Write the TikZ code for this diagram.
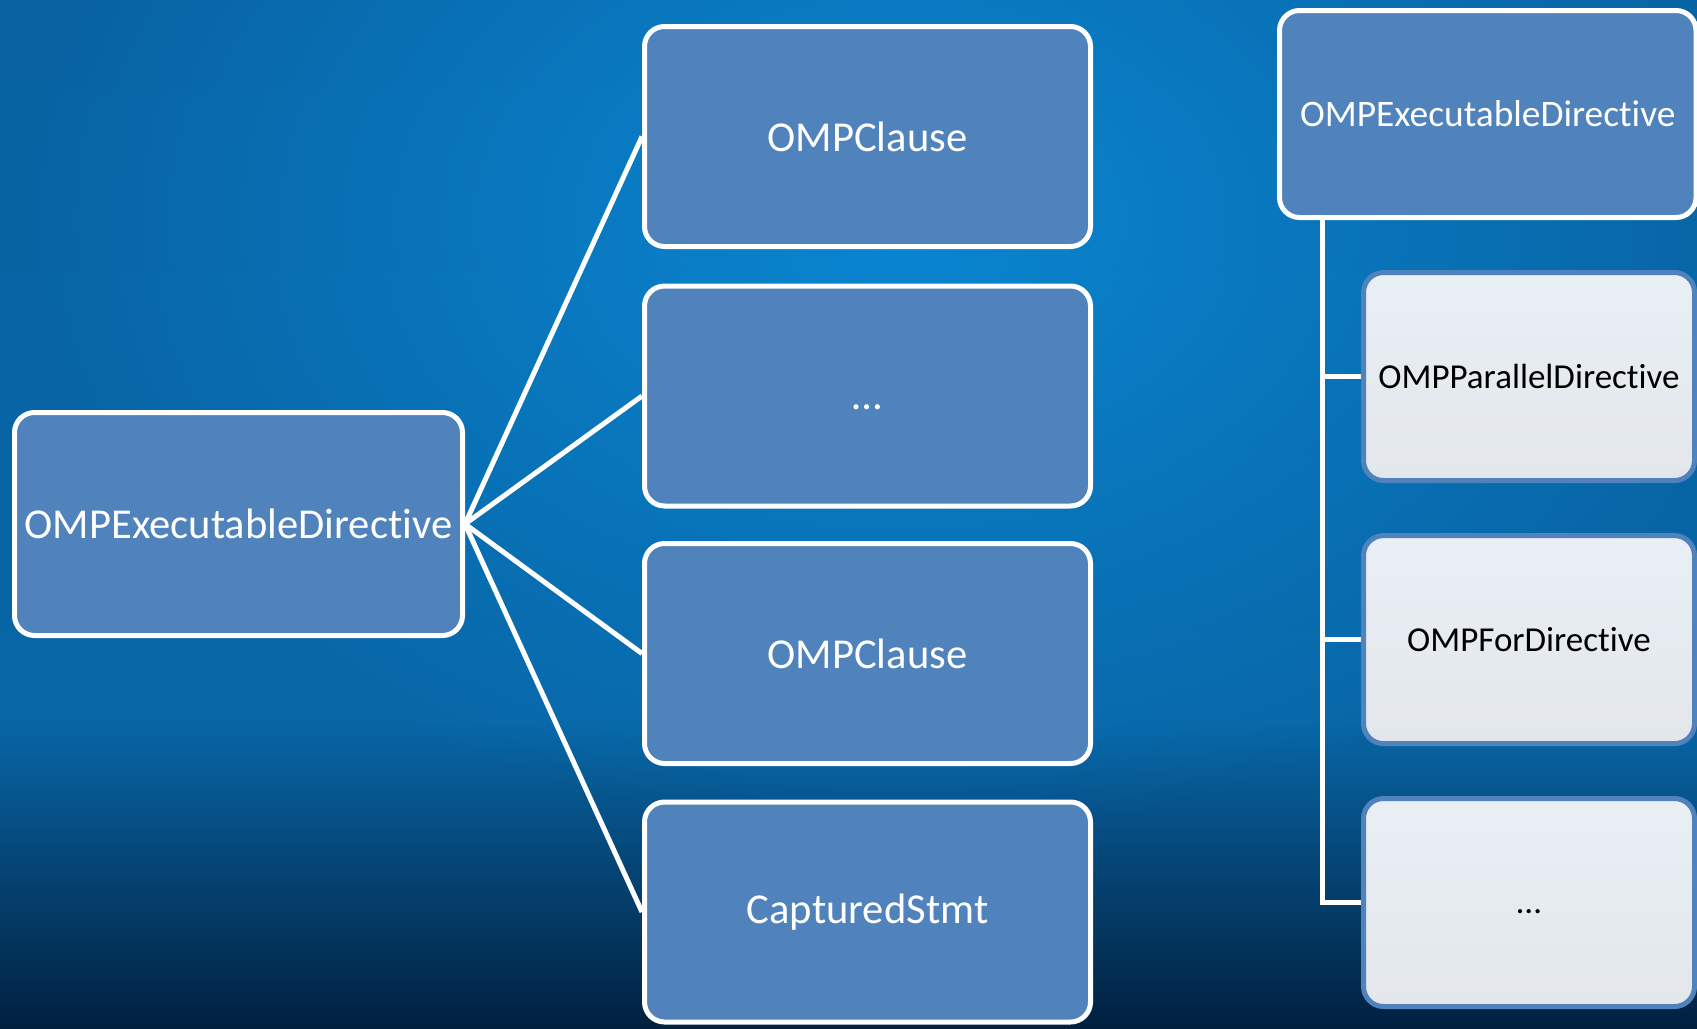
\documentclass[tikz,border=0pt]{standalone}
\usepackage{fontspec}
\setmainfont{Carlito}[Ligatures={NoCommon}]
\usetikzlibrary{fadings}

\definecolor{bgtop}{HTML}{0862A2}
\definecolor{bgmid}{HTML}{0866A6}
\definecolor{bgbot}{HTML}{01203F}
\definecolor{glowblue}{HTML}{0A86D2}
\definecolor{boxblue}{HTML}{5082BC}
\definecolor{lighttop}{HTML}{E9EFF5}
\definecolor{lightbot}{HTML}{E3E7EC}

\tikzfading[name=softglow, inner color=transparent!0, outer color=transparent!100]

\tikzset{
  darkbox/.style={draw=white, line width=5pt, fill=boxblue, rounded corners=20pt,
    text=white, inner sep=0pt, font=\fontsize{42.6}{51}\selectfont},
  lightbox/.style={draw=boxblue, line width=5pt, top color=lighttop, bottom color=lightbot,
    rounded corners=20pt, text=black, inner sep=0pt, font=\fontsize{35}{42}\selectfont,
    minimum width=331pt, minimum height=208pt},
  clausebox/.style={darkbox, minimum width=446pt, minimum height=220pt},
  link/.style={draw=white, line width=5pt},
}
% ellipsis placed on the same baseline as a capital-letter label
\newcommand{\etcdots}{\vphantom{O}…}

\begin{document}
\begin{tikzpicture}[x=1pt, y=-1pt]
  \useasboundingbox (0,0) rectangle (1697,1028);
  \clip (0,0) rectangle (1697,1028);

  % background: dark fall-off towards the bottom, bright glow near the top centre
  \shade[top color=bgtop, bottom color=bgmid] (0,-1) rectangle (1698,722);
  \shade[top color=bgmid, bottom color=bgbot] (0,720) rectangle (1698,1029);
  \fill[glowblue, path fading=softglow] (900,220) ellipse (880 and 620);

  % left: directive with its clauses and captured statement
  \node[darkbox, minimum width=448pt, minimum height=223pt] (exec) at (238.5,524) {OMPExecutableDirective};

  \node[clausebox] (clauseA) at (867.5,136.5) {OMPClause};
  \node[clausebox] (more)    at (867.5,396)   {\etcdots};
  \node[clausebox] (clauseB) at (867.5,653.5) {OMPClause};
  \node[clausebox] (capt)    at (867.5,912)   {CapturedStmt};

  \foreach \t in {clauseA, more, clauseB, capt}
    \draw[link] (exec.east) -- (\t.west);

  % right: class hierarchy of executable directives
  \node[darkbox, font=\fontsize{37.4}{45}\selectfont, minimum width=416.5pt, minimum height=207pt]
    (base) at (1487.75,114) {OMPExecutableDirective};

  \node[lightbox] (par) at (1529,376.5) {OMPParallelDirective};
  \node[lightbox] (for) at (1529,639.6) {OMPForDirective};
  \node[lightbox] (etc) at (1529,902.5) {\etcdots};

  \coordinate (trunk) at (1322,217);
  \draw[link] (trunk) |- (etc.west);
  \draw[link] (trunk |- par.west) -- (par.west);
  \draw[link] (trunk |- for.west) -- (for.west);
\end{tikzpicture}
\end{document}
